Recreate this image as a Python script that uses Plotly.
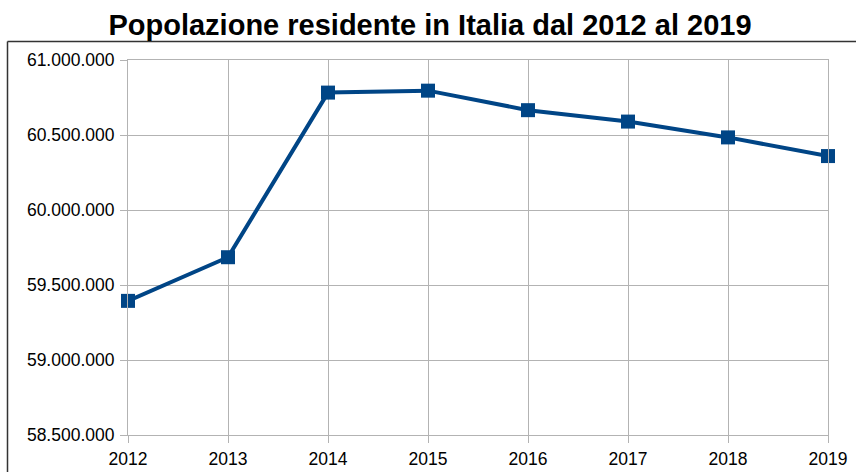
import plotly.graph_objects as go

years = ["2012", "2013", "2014", "2015", "2016", "2017", "2018", "2019"]
population = [59394207, 59685227, 60782668, 60795612, 60665551, 60589445, 60483973, 60359546]
y_ticks = [58500000, 59000000, 59500000, 60000000, 60500000, 61000000]
y_tick_labels = ["58.500.000", "59.000.000", "59.500.000", "60.000.000", "60.500.000", "61.000.000"]

W, H = 856, 472
L, T = 128, 60
R = W - 828
B = H - 435
pw, ph = W - L - R, H - T - B

fig = go.Figure()
fig.add_trace(go.Scatter(
    x=years, y=population, mode="lines+markers",
    line=dict(color="#004586", width=4),
    marker=dict(symbol="square", size=14, color="#004586"),
    cliponaxis=False, showlegend=False,
))

fig.update_layout(
    width=W, height=H,
    margin=dict(l=L, r=R, t=T, b=B),
    paper_bgcolor="white", plot_bgcolor="white",
    font=dict(family="Liberation Sans, Arial, sans-serif", size=17.5, color="black"),
    title=dict(text="<b>Popolazione residente in Italia dal 2012 al 2019</b>",
               x=430 / W, xanchor="center", y=1 - 25 / H, yanchor="middle",
               font=dict(size=29, color="black")),
    xaxis=dict(type="category", range=[0, 7], showgrid=True, gridcolor="#b3b3b3",
               gridwidth=1, ticks="outside", ticklen=7, tickcolor="#b3b3b3",
               showline=True, linecolor="#b3b3b3", mirror=True, zeroline=False,
               tickfont=dict(size=17.5), ticklabelstandoff=1, automargin=False),
    yaxis=dict(range=[58500000, 61000000], tickvals=y_ticks, ticktext=y_tick_labels,
               showgrid=True, gridcolor="#b3b3b3", gridwidth=1, ticks="outside",
               ticklen=7, tickcolor="#b3b3b3", showline=True, linecolor="#b3b3b3",
               mirror=True, zeroline=False, tickfont=dict(size=17.5), ticklabelstandoff=2,
               automargin=False),
)

left = (7.5 - L) / pw
top = 1 + (T - 41.5) / ph
fig.add_shape(type="line", xref="paper", yref="paper", x0=left, x1=left, y0=top, y1=-0.3,
              line=dict(color="#333333", width=1.5))
fig.add_shape(type="line", xref="paper", yref="paper", x0=left, x1=1.2, y0=top, y1=top,
              line=dict(color="#333333", width=1.5))

fig.write_html("out.html", config={"displayModeBar": False},
               post_script="document.body.style.margin='0';document.body.style.overflow='hidden';")
